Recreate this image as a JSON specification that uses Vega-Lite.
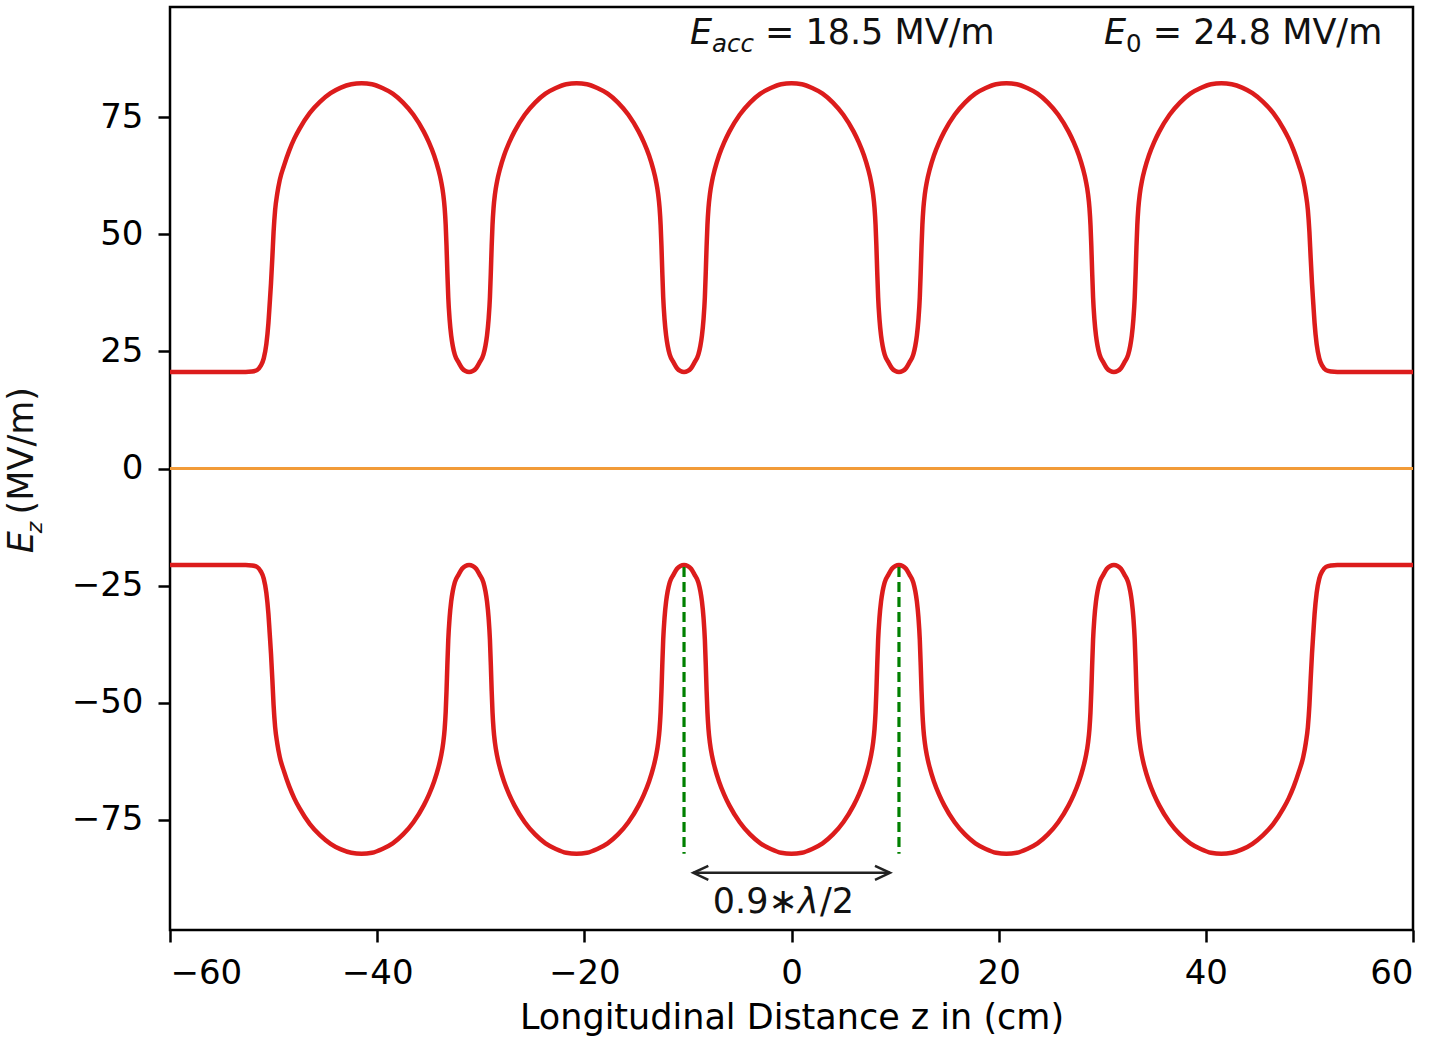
{
  "$schema": "https://vega.github.io/schema/vega-lite/v6.json",
  "width": 1243,
  "height": 923,
  "autosize": {"type": "none"},
  "padding": {"left": 170, "top": 7, "right": 28, "bottom": 109},
  "background": "white",
  "config": {
    "font": "DejaVu Sans",
    "view": {"stroke": "black", "strokeWidth": 2.5},
    "axis": {
      "domain": false,
      "grid": false,
      "ticks": true,
      "tickColor": "black",
      "tickWidth": 2.5,
      "tickSize": 12,
      "labelColor": "black",
      "labelFont": "DejaVu Sans",
      "labelFontSize": 34,
      "titleColor": "black",
      "titleFont": "DejaVu Sans",
      "titleFontSize": 35,
      "titleFontWeight": "normal"
    }
  },
  "datasets": {
    "curve": [
      {"z": -60, "up": 20.6, "lo": -20.6}, {"z": -52.7, "up": 20.6, "lo": -20.6}, {"z": -52.1, "up": 20.7, "lo": -20.7}, {"z": -51.6, "up": 21.0, "lo": -21.0}, {"z": -51.25, "up": 21.9, "lo": -21.9}, {"z": -50.95, "up": 23.5, "lo": -23.5}, {"z": -50.7, "up": 26.5, "lo": -26.5}, {"z": -50.5, "up": 31, "lo": -31}, {"z": -50.38, "up": 35, "lo": -35}, {"z": -50.25, "up": 39.5, "lo": -39.5}, {"z": -50.12, "up": 45, "lo": -45}, {"z": -50.0, "up": 50.5, "lo": -50.5}, {"z": -49.85, "up": 55.2, "lo": -55.2}, {"z": -49.65, "up": 58.6, "lo": -58.6}, {"z": -49.4, "up": 61.6, "lo": -61.6}, {"z": -49.0, "up": 64.6, "lo": -64.6}, {"z": -48.5, "up": 67.8, "lo": -67.8}, {"z": -48.0, "up": 70.4, "lo": -70.4}, {"z": -47.5, "up": 72.5, "lo": -72.5}, {"z": -46.5, "up": 75.9, "lo": -75.9}, {"z": -45.5, "up": 78.3, "lo": -78.3}, {"z": -44.5, "up": 80.1, "lo": -80.1}, {"z": -43.5, "up": 81.3, "lo": -81.3}, {"z": -42.5, "up": 82.0, "lo": -82.0}, {"z": -41.5, "up": 82.2, "lo": -82.2},
      {"z": -40.5, "up": 82.0, "lo": -82.0}, {"z": -39.5, "up": 81.2, "lo": -81.2}, {"z": -38.5, "up": 80.0, "lo": -80.0}, {"z": -37.5, "up": 78.1, "lo": -78.1}, {"z": -36.5, "up": 75.5, "lo": -75.5}, {"z": -35.5, "up": 71.9, "lo": -71.9}, {"z": -35.0, "up": 69.6, "lo": -69.6}, {"z": -34.5, "up": 66.8, "lo": -66.8}, {"z": -34.1, "up": 63.9, "lo": -63.9}, {"z": -33.825, "up": 61.3, "lo": -61.3}, {"z": -33.625, "up": 58.6, "lo": -58.6}, {"z": -33.485, "up": 55.6, "lo": -55.6}, {"z": -33.385, "up": 52, "lo": -52}, {"z": -33.305, "up": 47.5, "lo": -47.5}, {"z": -33.225, "up": 42, "lo": -42}, {"z": -33.135, "up": 36.5, "lo": -36.5}, {"z": -33.005, "up": 31.8, "lo": -31.8}, {"z": -32.855, "up": 28.4, "lo": -28.4}, {"z": -32.705, "up": 26.2, "lo": -26.2}, {"z": -32.505, "up": 24.3, "lo": -24.3}, {"z": -32.125, "up": 22.6, "lo": -22.6}, {"z": -31.805, "up": 21.4, "lo": -21.4}, {"z": -31.475, "up": 20.8, "lo": -20.8}, {"z": -31.125, "up": 20.6, "lo": -20.6},
      {"z": -30.775, "up": 20.8, "lo": -20.8}, {"z": -30.445, "up": 21.4, "lo": -21.4}, {"z": -30.125, "up": 22.6, "lo": -22.6}, {"z": -29.745, "up": 24.3, "lo": -24.3}, {"z": -29.545, "up": 26.2, "lo": -26.2}, {"z": -29.395, "up": 28.4, "lo": -28.4}, {"z": -29.245, "up": 31.8, "lo": -31.8}, {"z": -29.115, "up": 36.5, "lo": -36.5}, {"z": -29.025, "up": 42, "lo": -42}, {"z": -28.945, "up": 47.5, "lo": -47.5}, {"z": -28.865, "up": 52, "lo": -52}, {"z": -28.765, "up": 55.6, "lo": -55.6}, {"z": -28.625, "up": 58.6, "lo": -58.6}, {"z": -28.425, "up": 61.3, "lo": -61.3}, {"z": -28.15, "up": 63.9, "lo": -63.9}, {"z": -27.75, "up": 66.8, "lo": -66.8}, {"z": -27.25, "up": 69.6, "lo": -69.6}, {"z": -26.75, "up": 71.9, "lo": -71.9}, {"z": -25.75, "up": 75.5, "lo": -75.5}, {"z": -24.75, "up": 78.1, "lo": -78.1}, {"z": -23.75, "up": 80.0, "lo": -80.0}, {"z": -22.75, "up": 81.2, "lo": -81.2}, {"z": -21.75, "up": 82.0, "lo": -82.0}, {"z": -20.75, "up": 82.2, "lo": -82.2},
      {"z": -19.75, "up": 82.0, "lo": -82.0}, {"z": -18.75, "up": 81.2, "lo": -81.2}, {"z": -17.75, "up": 80.0, "lo": -80.0}, {"z": -16.75, "up": 78.1, "lo": -78.1}, {"z": -15.75, "up": 75.5, "lo": -75.5}, {"z": -14.75, "up": 71.9, "lo": -71.9}, {"z": -14.25, "up": 69.6, "lo": -69.6}, {"z": -13.75, "up": 66.8, "lo": -66.8}, {"z": -13.35, "up": 63.9, "lo": -63.9}, {"z": -13.075, "up": 61.3, "lo": -61.3}, {"z": -12.875, "up": 58.6, "lo": -58.6}, {"z": -12.735, "up": 55.6, "lo": -55.6}, {"z": -12.635, "up": 52, "lo": -52}, {"z": -12.555, "up": 47.5, "lo": -47.5}, {"z": -12.475, "up": 42, "lo": -42}, {"z": -12.385, "up": 36.5, "lo": -36.5}, {"z": -12.255, "up": 31.8, "lo": -31.8}, {"z": -12.105, "up": 28.4, "lo": -28.4}, {"z": -11.955, "up": 26.2, "lo": -26.2}, {"z": -11.755, "up": 24.3, "lo": -24.3}, {"z": -11.375, "up": 22.6, "lo": -22.6}, {"z": -11.055, "up": 21.4, "lo": -21.4}, {"z": -10.725, "up": 20.8, "lo": -20.8}, {"z": -10.375, "up": 20.6, "lo": -20.6},
      {"z": -10.025, "up": 20.8, "lo": -20.8}, {"z": -9.695, "up": 21.4, "lo": -21.4}, {"z": -9.375, "up": 22.6, "lo": -22.6}, {"z": -8.995, "up": 24.3, "lo": -24.3}, {"z": -8.795, "up": 26.2, "lo": -26.2}, {"z": -8.645, "up": 28.4, "lo": -28.4}, {"z": -8.495, "up": 31.8, "lo": -31.8}, {"z": -8.365, "up": 36.5, "lo": -36.5}, {"z": -8.275, "up": 42, "lo": -42}, {"z": -8.195, "up": 47.5, "lo": -47.5}, {"z": -8.115, "up": 52, "lo": -52}, {"z": -8.015, "up": 55.6, "lo": -55.6}, {"z": -7.875, "up": 58.6, "lo": -58.6}, {"z": -7.675, "up": 61.3, "lo": -61.3}, {"z": -7.4, "up": 63.9, "lo": -63.9}, {"z": -7.0, "up": 66.8, "lo": -66.8}, {"z": -6.5, "up": 69.6, "lo": -69.6}, {"z": -6.0, "up": 71.9, "lo": -71.9}, {"z": -5.0, "up": 75.5, "lo": -75.5}, {"z": -4.0, "up": 78.1, "lo": -78.1}, {"z": -3.0, "up": 80.0, "lo": -80.0}, {"z": -2.0, "up": 81.2, "lo": -81.2}, {"z": -1.0, "up": 82.0, "lo": -82.0}, {"z": 0, "up": 82.2, "lo": -82.2},
      {"z": 1.0, "up": 82.0, "lo": -82.0}, {"z": 2.0, "up": 81.2, "lo": -81.2}, {"z": 3.0, "up": 80.0, "lo": -80.0}, {"z": 4.0, "up": 78.1, "lo": -78.1}, {"z": 5.0, "up": 75.5, "lo": -75.5}, {"z": 6.0, "up": 71.9, "lo": -71.9}, {"z": 6.5, "up": 69.6, "lo": -69.6}, {"z": 7.0, "up": 66.8, "lo": -66.8}, {"z": 7.4, "up": 63.9, "lo": -63.9}, {"z": 7.675, "up": 61.3, "lo": -61.3}, {"z": 7.875, "up": 58.6, "lo": -58.6}, {"z": 8.015, "up": 55.6, "lo": -55.6}, {"z": 8.115, "up": 52, "lo": -52}, {"z": 8.195, "up": 47.5, "lo": -47.5}, {"z": 8.275, "up": 42, "lo": -42}, {"z": 8.365, "up": 36.5, "lo": -36.5}, {"z": 8.495, "up": 31.8, "lo": -31.8}, {"z": 8.645, "up": 28.4, "lo": -28.4}, {"z": 8.795, "up": 26.2, "lo": -26.2}, {"z": 8.995, "up": 24.3, "lo": -24.3}, {"z": 9.375, "up": 22.6, "lo": -22.6}, {"z": 9.695, "up": 21.4, "lo": -21.4}, {"z": 10.025, "up": 20.8, "lo": -20.8}, {"z": 10.375, "up": 20.6, "lo": -20.6},
      {"z": 10.725, "up": 20.8, "lo": -20.8}, {"z": 11.055, "up": 21.4, "lo": -21.4}, {"z": 11.375, "up": 22.6, "lo": -22.6}, {"z": 11.755, "up": 24.3, "lo": -24.3}, {"z": 11.955, "up": 26.2, "lo": -26.2}, {"z": 12.105, "up": 28.4, "lo": -28.4}, {"z": 12.255, "up": 31.8, "lo": -31.8}, {"z": 12.385, "up": 36.5, "lo": -36.5}, {"z": 12.475, "up": 42, "lo": -42}, {"z": 12.555, "up": 47.5, "lo": -47.5}, {"z": 12.635, "up": 52, "lo": -52}, {"z": 12.735, "up": 55.6, "lo": -55.6}, {"z": 12.875, "up": 58.6, "lo": -58.6}, {"z": 13.075, "up": 61.3, "lo": -61.3}, {"z": 13.35, "up": 63.9, "lo": -63.9}, {"z": 13.75, "up": 66.8, "lo": -66.8}, {"z": 14.25, "up": 69.6, "lo": -69.6}, {"z": 14.75, "up": 71.9, "lo": -71.9}, {"z": 15.75, "up": 75.5, "lo": -75.5}, {"z": 16.75, "up": 78.1, "lo": -78.1}, {"z": 17.75, "up": 80.0, "lo": -80.0}, {"z": 18.75, "up": 81.2, "lo": -81.2}, {"z": 19.75, "up": 82.0, "lo": -82.0}, {"z": 20.75, "up": 82.2, "lo": -82.2},
      {"z": 21.75, "up": 82.0, "lo": -82.0}, {"z": 22.75, "up": 81.2, "lo": -81.2}, {"z": 23.75, "up": 80.0, "lo": -80.0}, {"z": 24.75, "up": 78.1, "lo": -78.1}, {"z": 25.75, "up": 75.5, "lo": -75.5}, {"z": 26.75, "up": 71.9, "lo": -71.9}, {"z": 27.25, "up": 69.6, "lo": -69.6}, {"z": 27.75, "up": 66.8, "lo": -66.8}, {"z": 28.15, "up": 63.9, "lo": -63.9}, {"z": 28.425, "up": 61.3, "lo": -61.3}, {"z": 28.625, "up": 58.6, "lo": -58.6}, {"z": 28.765, "up": 55.6, "lo": -55.6}, {"z": 28.865, "up": 52, "lo": -52}, {"z": 28.945, "up": 47.5, "lo": -47.5}, {"z": 29.025, "up": 42, "lo": -42}, {"z": 29.115, "up": 36.5, "lo": -36.5}, {"z": 29.245, "up": 31.8, "lo": -31.8}, {"z": 29.395, "up": 28.4, "lo": -28.4}, {"z": 29.545, "up": 26.2, "lo": -26.2}, {"z": 29.745, "up": 24.3, "lo": -24.3}, {"z": 30.125, "up": 22.6, "lo": -22.6}, {"z": 30.445, "up": 21.4, "lo": -21.4}, {"z": 30.775, "up": 20.8, "lo": -20.8}, {"z": 31.125, "up": 20.6, "lo": -20.6},
      {"z": 31.475, "up": 20.8, "lo": -20.8}, {"z": 31.805, "up": 21.4, "lo": -21.4}, {"z": 32.125, "up": 22.6, "lo": -22.6}, {"z": 32.505, "up": 24.3, "lo": -24.3}, {"z": 32.705, "up": 26.2, "lo": -26.2}, {"z": 32.855, "up": 28.4, "lo": -28.4}, {"z": 33.005, "up": 31.8, "lo": -31.8}, {"z": 33.135, "up": 36.5, "lo": -36.5}, {"z": 33.225, "up": 42, "lo": -42}, {"z": 33.305, "up": 47.5, "lo": -47.5}, {"z": 33.385, "up": 52, "lo": -52}, {"z": 33.485, "up": 55.6, "lo": -55.6}, {"z": 33.625, "up": 58.6, "lo": -58.6}, {"z": 33.825, "up": 61.3, "lo": -61.3}, {"z": 34.1, "up": 63.9, "lo": -63.9}, {"z": 34.5, "up": 66.8, "lo": -66.8}, {"z": 35.0, "up": 69.6, "lo": -69.6}, {"z": 35.5, "up": 71.9, "lo": -71.9}, {"z": 36.5, "up": 75.5, "lo": -75.5}, {"z": 37.5, "up": 78.1, "lo": -78.1}, {"z": 38.5, "up": 80.0, "lo": -80.0}, {"z": 39.5, "up": 81.2, "lo": -81.2}, {"z": 40.5, "up": 82.0, "lo": -82.0}, {"z": 41.5, "up": 82.2, "lo": -82.2},
      {"z": 42.5, "up": 82.0, "lo": -82.0}, {"z": 43.5, "up": 81.3, "lo": -81.3}, {"z": 44.5, "up": 80.1, "lo": -80.1}, {"z": 45.5, "up": 78.3, "lo": -78.3}, {"z": 46.5, "up": 75.9, "lo": -75.9}, {"z": 47.5, "up": 72.5, "lo": -72.5}, {"z": 48.0, "up": 70.4, "lo": -70.4}, {"z": 48.5, "up": 67.8, "lo": -67.8}, {"z": 49.0, "up": 64.6, "lo": -64.6}, {"z": 49.4, "up": 61.6, "lo": -61.6}, {"z": 49.65, "up": 58.6, "lo": -58.6}, {"z": 49.85, "up": 55.2, "lo": -55.2}, {"z": 50.0, "up": 50.5, "lo": -50.5}, {"z": 50.12, "up": 45, "lo": -45}, {"z": 50.25, "up": 39.5, "lo": -39.5}, {"z": 50.38, "up": 35, "lo": -35}, {"z": 50.5, "up": 31, "lo": -31}, {"z": 50.7, "up": 26.5, "lo": -26.5}, {"z": 50.95, "up": 23.5, "lo": -23.5}, {"z": 51.25, "up": 21.9, "lo": -21.9}, {"z": 51.6, "up": 21.0, "lo": -21.0}, {"z": 52.1, "up": 20.7, "lo": -20.7}, {"z": 52.7, "up": 20.6, "lo": -20.6}, {"z": 60, "up": 20.6, "lo": -20.6}
    ],
    "zero": [{"z": -60, "Ez": 0}, {"z": 60, "Ez": 0}],
    "guides": [{"z": -10.375, "y1": -21, "y2": -82.2}, {"z": 10.375, "y1": -21, "y2": -82.2}],
    "arrow": [
      {"z": -9.48, "Ez": -86.3, "part": "shaft", "seq": 1}, {"z": 9.51, "Ez": -86.3, "part": "shaft", "seq": 2},
      {"z": -8.03, "Ez": -84.8, "part": "headL", "seq": 1}, {"z": -9.48, "Ez": -86.3, "part": "headL", "seq": 2}, {"z": -8.03, "Ez": -87.8, "part": "headL", "seq": 3},
      {"z": 8.06, "Ez": -84.8, "part": "headR", "seq": 1}, {"z": 9.51, "Ez": -86.3, "part": "headR", "seq": 2}, {"z": 8.06, "Ez": -87.8, "part": "headR", "seq": 3}
    ],
    "textRegular": [
      {"z": -2.56, "Ez": 90.5, "txt": "= 18.5 MV/m"},
      {"z": 34.87, "Ez": 90.5, "txt": "= 24.8 MV/m"},
      {"z": -7.6, "Ez": -94.8, "txt": "0.9∗"},
      {"z": 2.75, "Ez": -94.8, "txt": "/2"}
    ],
    "textItalic": [
      {"z": -9.8, "Ez": 90.5, "txt": "E"},
      {"z": 30.17, "Ez": 90.5, "txt": "E"},
      {"z": 0.63, "Ez": -94.8, "txt": "λ"}
    ],
    "subItalic": [{"z": -7.67, "Ez": 89.0, "txt": "acc"}],
    "subRegular": [{"z": 32.3, "Ez": 89.0, "txt": "0"}],
    "ytitleItalic": [{"z": -73.2, "Ez": -18.1, "txt": "E"}],
    "ytitleSub": [{"z": -72.4, "Ez": -13.8, "txt": "z"}],
    "ytitleRegular": [{"z": -73.2, "Ez": -9.8, "txt": "(MV/m)"}]
  },
  "encoding": {
    "x": {
      "field": "z",
      "type": "quantitative",
      "scale": {"domain": [-60, 60], "nice": false, "zero": false},
      "axis": {
        "values": [-60, -40, -20, 0, 20, 40, 60],
        "title": "Longitudinal Distance z in (cm)",
        "labelPadding": 14,
        "titlePadding": 10
      }
    }
  },
  "layer": [
    {
      "data": {"name": "curve"},
      "mark": {"type": "line", "color": "#dc1c1c", "strokeWidth": 4.5, "interpolate": "monotone"},
      "encoding": {
        "y": {
          "field": "up",
          "type": "quantitative",
          "scale": {"domain": [-98.5, 98.5], "nice": false, "zero": false},
          "axis": {"values": [-75, -50, -25, 0, 25, 50, 75], "title": null, "labelPadding": 15}
        }
      }
    },
    {
      "data": {"name": "curve"},
      "mark": {"type": "line", "color": "#dc1c1c", "strokeWidth": 4.5, "interpolate": "monotone"},
      "encoding": {"y": {"field": "lo", "type": "quantitative", "axis": {"values": [-75, -50, -25, 0, 25, 50, 75], "title": null, "labelPadding": 15}}}
    },
    {
      "data": {"name": "zero"},
      "mark": {"type": "line", "color": "#f29b38", "strokeWidth": 3},
      "encoding": {"y": {"field": "Ez", "type": "quantitative", "axis": {"values": [-75, -50, -25, 0, 25, 50, 75], "title": null, "labelPadding": 15}}}
    },
    {
      "data": {"name": "guides"},
      "mark": {"type": "rule", "color": "#008000", "strokeWidth": 3.2, "strokeDash": [10, 5]},
      "encoding": {"y": {"field": "y1", "type": "quantitative", "axis": {"values": [-75, -50, -25, 0, 25, 50, 75], "title": null, "labelPadding": 15}}, "y2": {"field": "y2"}}
    },
    {
      "data": {"name": "arrow"},
      "mark": {"type": "line", "color": "#222222", "strokeWidth": 2.5},
      "encoding": {
        "y": {"field": "Ez", "type": "quantitative", "axis": {"values": [-75, -50, -25, 0, 25, 50, 75], "title": null, "labelPadding": 15}},
        "detail": {"field": "part"},
        "order": {"field": "seq"}
      }
    },
    {
      "data": {"name": "textRegular"},
      "mark": {"type": "text", "font": "DejaVu Sans", "fontSize": 35, "align": "left", "baseline": "alphabetic", "color": "#111111"},
      "encoding": {"y": {"field": "Ez", "type": "quantitative", "axis": {"values": [-75, -50, -25, 0, 25, 50, 75], "title": null, "labelPadding": 15}}, "text": {"field": "txt"}}
    },
    {
      "data": {"name": "textItalic"},
      "mark": {"type": "text", "font": "DejaVu Sans", "fontStyle": "italic", "fontSize": 35, "align": "left", "baseline": "alphabetic", "color": "#111111"},
      "encoding": {"y": {"field": "Ez", "type": "quantitative", "axis": {"values": [-75, -50, -25, 0, 25, 50, 75], "title": null, "labelPadding": 15}}, "text": {"field": "txt"}}
    },
    {
      "data": {"name": "subItalic"},
      "mark": {"type": "text", "font": "DejaVu Sans", "fontStyle": "italic", "fontSize": 24.5, "align": "left", "baseline": "alphabetic", "color": "#111111"},
      "encoding": {"y": {"field": "Ez", "type": "quantitative", "axis": {"values": [-75, -50, -25, 0, 25, 50, 75], "title": null, "labelPadding": 15}}, "text": {"field": "txt"}}
    },
    {
      "data": {"name": "subRegular"},
      "mark": {"type": "text", "font": "DejaVu Sans", "fontSize": 24.5, "align": "left", "baseline": "alphabetic", "color": "#111111"},
      "encoding": {"y": {"field": "Ez", "type": "quantitative", "axis": {"values": [-75, -50, -25, 0, 25, 50, 75], "title": null, "labelPadding": 15}}, "text": {"field": "txt"}}
    },
    {
      "data": {"name": "ytitleItalic"},
      "mark": {"type": "text", "font": "DejaVu Sans", "fontStyle": "italic", "fontSize": 35, "align": "left", "baseline": "alphabetic", "angle": 270, "color": "#111111"},
      "encoding": {"y": {"field": "Ez", "type": "quantitative", "axis": {"values": [-75, -50, -25, 0, 25, 50, 75], "title": null, "labelPadding": 15}}, "text": {"field": "txt"}}
    },
    {
      "data": {"name": "ytitleSub"},
      "mark": {"type": "text", "font": "DejaVu Sans", "fontStyle": "italic", "fontSize": 22, "align": "left", "baseline": "alphabetic", "angle": 270, "color": "#111111"},
      "encoding": {"y": {"field": "Ez", "type": "quantitative", "axis": {"values": [-75, -50, -25, 0, 25, 50, 75], "title": null, "labelPadding": 15}}, "text": {"field": "txt"}}
    },
    {
      "data": {"name": "ytitleRegular"},
      "mark": {"type": "text", "font": "DejaVu Sans", "fontSize": 35, "align": "left", "baseline": "alphabetic", "angle": 270, "color": "#111111"},
      "encoding": {"y": {"field": "Ez", "type": "quantitative", "axis": {"values": [-75, -50, -25, 0, 25, 50, 75], "title": null, "labelPadding": 15}}, "text": {"field": "txt"}}
    }
  ]
}
